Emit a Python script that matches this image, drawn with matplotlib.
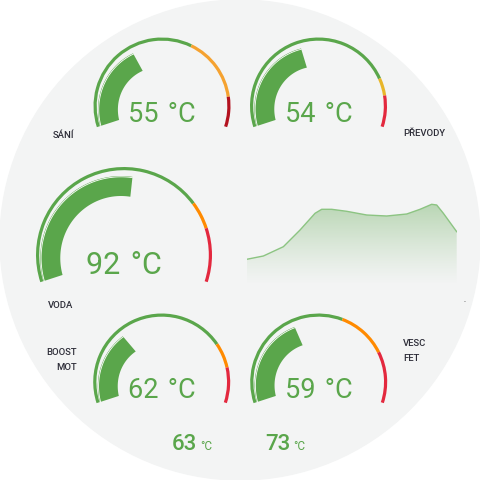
import matplotlib.pyplot as plt
import numpy as np
from matplotlib.patches import Circle, Wedge, Polygon

plt.rcParams['font.family'] = ['Roboto', 'DejaVu Sans']

# gauge data
names = ['SÁNÍ', 'PŘEVODY', 'VODA', 'BOOST\nMOT', 'VESC\nFET']
values = [55, 54, 92, 62, 59]
g_max = [150, 128, 174, 198, 151]
warn_at = [93, 103, 130, 150, 90]
alarm_at = [132, 112, 145, 170, 120]
warn_col = ['#f5a230', '#e8b62a', '#ff8a00', '#ff8a00', '#ff8a00']
alarm_col = ['#b3121f', '#e3283e', '#e3283e', '#e3283e', '#e3283e']

# small readouts
small_vals = [63, 73]

# history chart
hist = [25.7, 29, 38.3, 55, 71.7, 75.7, 75.7, 73.7, 70, 69, 71, 75.7, 80.7, 80, 71.7, 53.3]
hist_x = [0, 1, 2.2, 3.2, 4.1, 4.5, 5.1, 6, 7.2, 8.4, 9.6, 10.4, 11.1, 11.4, 11.8, 12.6]

GREEN = '#5aa64b'
BG = '#f3f4f4'

# layout: (cx, cy from top, outer radius, bar width, text size, text offset)
layout = [(162, 106, 68.5, 20, 19.5, 16),
          (318.5, 106, 68.5, 20, 19.5, 16),
          (124, 255, 88, 20, 22, 19),
          (161.7, 382, 68.5, 20, 19.5, 16),
          (318.7, 382, 68.5, 20, 19.5, 16)]
label_pos = [(53, 135, 'left'), (403, 134, 'left'), (48, 305, 'left'),
             (77, 360, 'right'), (403, 351, 'left')]

A0, SWEEP = 198.0, 216.0

fig = plt.figure(figsize=(4.8, 4.8), dpi=100, facecolor='white')
ax = fig.add_axes([0, 0, 1, 1])
ax.set_xlim(0, 480)
ax.set_ylim(0, 480)
ax.set_aspect('equal')
ax.axis('off')

ax.add_patch(Circle((240, 240), 240, color=BG, zorder=0))


def ang(frac):
    return A0 - SWEEP * frac


for i in range(len(values)):
    cx, cy, R, bw, fs, toff = layout[i]
    cy = 480 - cy
    # outer thin ring in three segments
    fw = warn_at[i] / g_max[i]
    fa = alarm_at[i] / g_max[i]
    segs = [(0, fw, GREEN), (fw, fa, warn_col[i]), (fa, 1, alarm_col[i])]
    for s0, s1, c in segs:
        ax.add_patch(Wedge((cx, cy), R, ang(s1), ang(s0), width=3.2, color=c, lw=0, zorder=2))
    # value bar, slightly tapering away from the ring
    f = values[i] / g_max[i]
    t = np.linspace(0, 1, 120)
    a = np.radians(A0 - SWEEP * f * t)
    taper = 5 if R < 80 else 6
    ro = R - 3.4 - taper * t
    ri = ro - bw
    xs = np.concatenate([cx + ro * np.cos(a), (cx + ri * np.cos(a))[::-1]])
    ys = np.concatenate([cy + ro * np.sin(a), (cy + ri * np.sin(a))[::-1]])
    ax.add_patch(Polygon(np.column_stack([xs, ys]), closed=True, color=GREEN, lw=0, zorder=3))
    ax.plot(cx + (ro - 0.8) * np.cos(a), cy + (ro - 0.8) * np.sin(a), color='white', lw=0.6, zorder=4)
    ax.text(cx, cy - toff, f'{values[i]}\u2004°C', ha='center', va='baseline', fontsize=fs,
            color=GREEN, zorder=5)
    lx, ly, lha = label_pos[i]
    ax.text(lx, 480 - ly, names[i], ha=lha, va='center', fontsize=6.8, color='#2d2d38',
            fontweight='medium', linespacing=1.9, zorder=5)

# small readouts
for v, xr in zip(small_vals, [197, 290]):
    ax.text(xr, 480 - 450, str(v), ha='right', va='baseline', fontsize=16,
            color=GREEN, fontweight='medium')
    ax.text(xr + 3, 480 - 450, '°C', ha='left', va='baseline', fontsize=8.5,
            color=GREEN)

ax.text(465, 480 - 303, '-', ha='center', va='center', fontsize=5, color='#777777')

# history area chart
cax = fig.add_axes([246.7 / 480, (480 - 285) / 480, 210 / 480, 85 / 480])
cax.set_xlim(hist_x[0], hist_x[-1])
cax.set_ylim(0, 85)
cax.axis('off')
grad = np.linspace(0, 1, 256).reshape(-1, 1)
rgba = np.zeros((256, 1, 4))
rgba[..., 0] = 0.45
rgba[..., 1] = 0.70
rgba[..., 2] = 0.40
rgba[..., 3] = 0.45 * grad[::-1] ** 1.2
img = cax.imshow(rgba, extent=[hist_x[0], hist_x[-1], 0, max(hist)], aspect='auto',
                 origin='upper', zorder=1)
fill = cax.fill_between(hist_x, hist, 0, color='none', lw=0)
img.set_clip_path(fill.get_paths()[0], transform=cax.transData)
cax.plot(hist_x, hist, color='#8cc482', lw=1.0, zorder=2)

fig.savefig('out.png', dpi=100, facecolor='white')
